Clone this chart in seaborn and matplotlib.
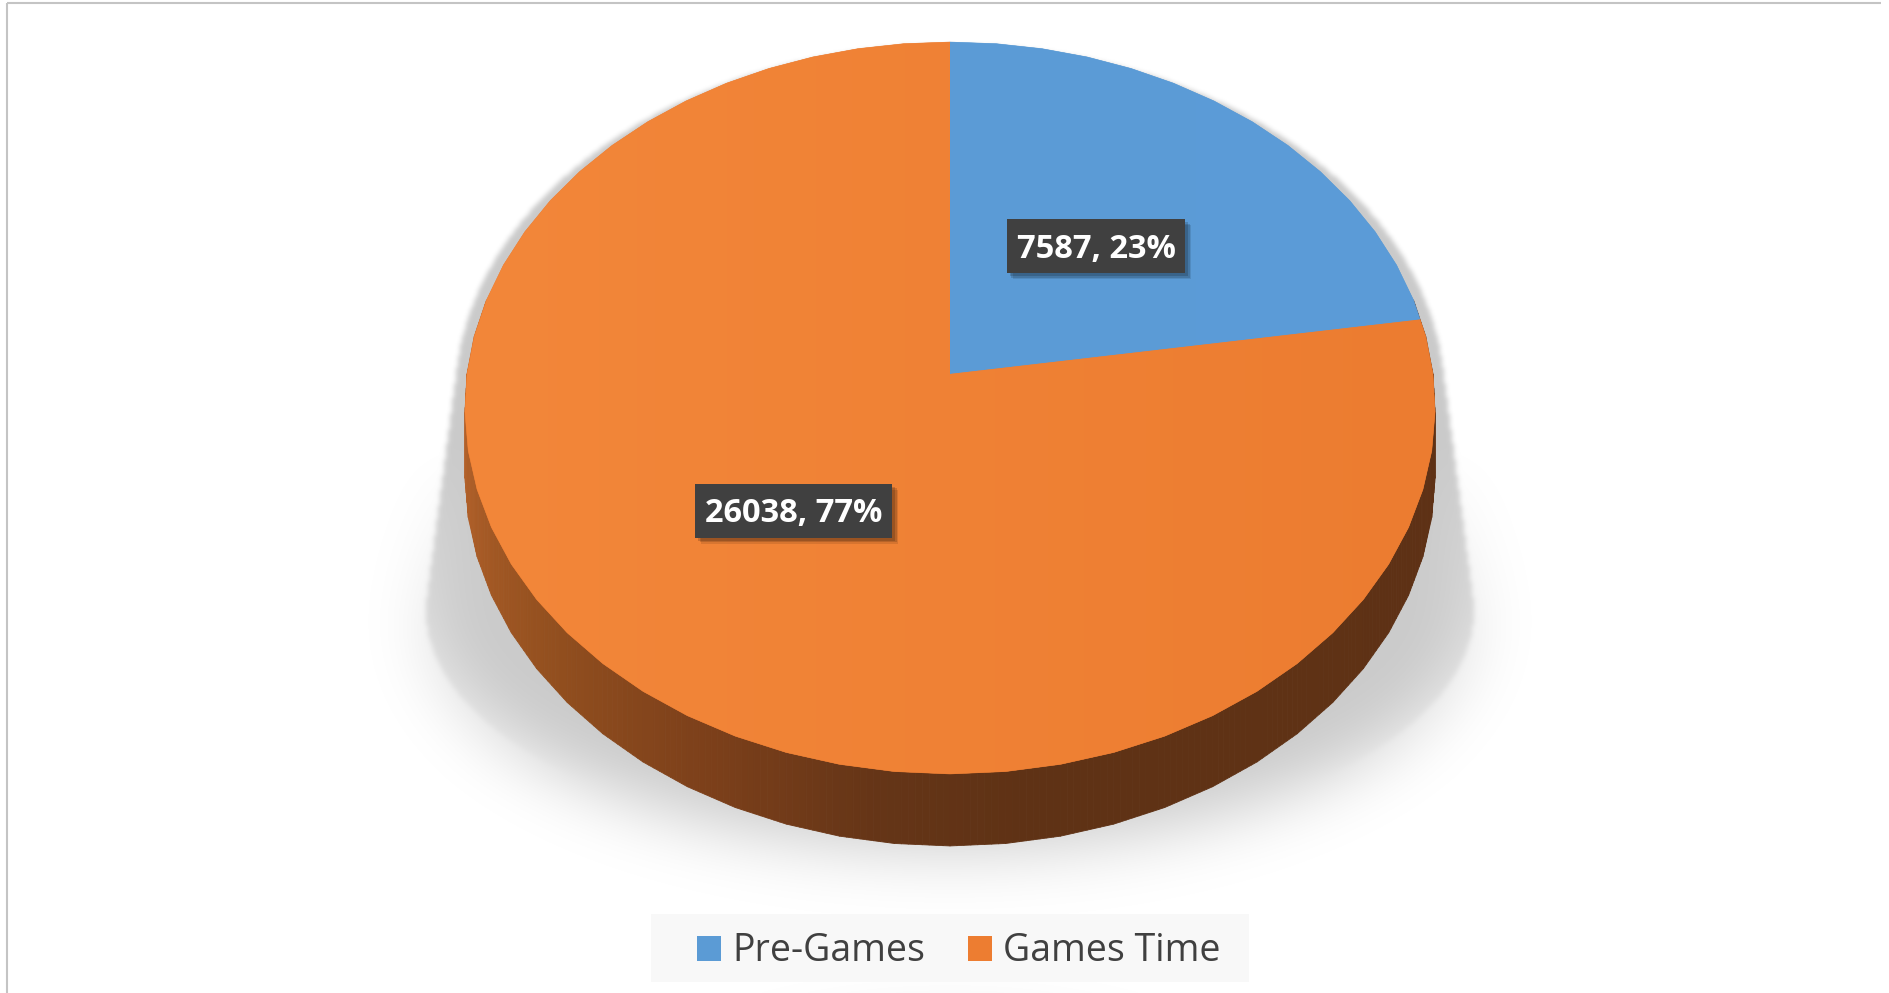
import numpy as np
import pandas as pd
import seaborn as sns
import matplotlib
matplotlib.use("Agg")
import matplotlib.pyplot as plt
from matplotlib.patches import Polygon, Rectangle
from matplotlib.collections import PolyCollection
from matplotlib.path import Path
from matplotlib.colors import to_rgb

# ---- data ----
categories = ["Pre-Games", "Games Time"]
values = [7587, 26038]
slice_colors = ["#5B9BD5", "#ED7D31"]

sns.set_theme(style="white")
plt.rcParams["font.family"] = ["Open Sans", "DejaVu Sans"]
plt.rcParams["hatch.color"] = "#575757"
plt.rcParams["hatch.linewidth"] = 0.6

W, H = 1890, 993
fig = plt.figure(figsize=(W / 100, H / 100), dpi=100)
fig.patch.set_facecolor("white")
ax = fig.add_axes([0, 0, 1, 1])
ax.set_xlim(0, W)
ax.set_ylim(H, 0)
ax.axis("off")

# ---- perspective projection of a unit disk (X right, Y away, Z up) ----
CX, CY = 950.0, 374.0
SX, SY = 483.0, 362.8
K = 0.0929
DEPTH = 65.3
FACET = 6.0  # the disk is drawn as a polygon with a vertex every 6 degrees


def project(X, Y, Z=0.0):
    w = 1.0 + K * Y
    return CX + SX * X / w, CY - (SY * Y + DEPTH * Z) / w


def rim(t_deg, Z=0.0):
    """Point on the faceted rim at angle t (degrees)."""
    t = np.asarray(t_deg, float)
    seg = np.floor(t / FACET) * FACET
    f = (t - seg) / FACET
    a0, a1 = np.radians(seg), np.radians(seg + FACET)
    X = (1 - f) * np.cos(a0) + f * np.cos(a1)
    Y = (1 - f) * np.sin(a0) + f * np.sin(a1)
    return project(X, Y, Z)


# ---- soft floor shadow ----
def ellipse_pts(cx, cy, a, b, n=360):
    t = np.linspace(0, 2 * np.pi, n, endpoint=False)
    return np.column_stack([cx + a * np.cos(t), cy + b * np.sin(t)])


def convex_hull(pts):
    pts = sorted(map(tuple, pts))

    def cross(o, a, b):
        return (a[0] - o[0]) * (b[1] - o[1]) - (a[1] - o[1]) * (b[0] - o[0])

    lower, upper = [], []
    for p in pts:
        while len(lower) >= 2 and cross(lower[-2], lower[-1], p) <= 0:
            lower.pop()
        lower.append(p)
    for p in reversed(pts):
        while len(upper) >= 2 and cross(upper[-2], upper[-1], p) <= 0:
            upper.pop()
        upper.append(p)
    return np.array(lower[:-1] + upper[:-1])


hull = convex_hull(np.vstack([ellipse_pts(950, 400, 495, 355),
                              ellipse_pts(950, 612, 524, 238)]))
step = 2
gy, gx = np.mgrid[0:H:step, 0:W:step]
mask = Path(hull).contains_points(
    np.column_stack([gx.ravel() + step / 2, gy.ravel() + step / 2])
).reshape(gx.shape).astype(float)


def gauss_blur(img, sigma):
    fy = np.fft.fftfreq(img.shape[0])[:, None]
    fx = np.fft.fftfreq(img.shape[1])[None, :]
    tf = np.exp(-2 * np.pi ** 2 * sigma ** 2 * (fx ** 2 + fy ** 2))
    return np.real(np.fft.ifft2(np.fft.fft2(img) * tf))


sharp = gauss_blur(mask, 1.2)
soft = gauss_blur(mask, 17)
wgt = np.clip((gy - 440) / 340.0, 0, 1)
shade = np.clip((1 - wgt) * sharp + wgt * soft, 0, 1)
rgba = np.zeros(shade.shape + (4,))
rgba[..., 3] = 0.21 * shade
ax.imshow(rgba, extent=(0, W, H, 0), origin="upper", zorder=1,
          interpolation="bilinear", aspect="auto")

# ---- pie wall (front half), shaded by angle ----
wall_stops = [(170, "#B6632B"), (185, "#B6632B"), (218, "#94501F"),
              (244, "#7B3F1A"), (262, "#653517"), (278, "#5F3215"),
              (370, "#5E3115")]
sa = np.array([s[0] for s in wall_stops], float)
sc = np.array([to_rgb(s[1]) for s in wall_stops])


def wall_color(t):
    return tuple(np.interp(t, sa, sc[:, i]) for i in range(3))


ts = np.arange(168, 372.01, 0.75)
quads, qcols = [], []
for t0, t1 in zip(ts[:-1], ts[1:]):
    x0, y0 = rim(t0)
    x1, y1 = rim(t1)
    x2, y2 = rim(t1, -1)
    x3, y3 = rim(t0, -1)
    quads.append([(x0, y0), (x1, y1), (x2, y2), (x3, y3)])
    qcols.append(wall_color(0.5 * (t0 + t1)))
ax.add_collection(PolyCollection(quads, facecolors=qcols, edgecolors=qcols,
                                 linewidths=0.6, zorder=2))

# ---- top face slices ----
total = float(sum(values))
fractions = [v / total for v in values]
start = 90.0
bounds = []
for f in fractions:
    end = start - 360.0 * f
    bounds.append((start, end))
    start = end

face_grad = {
    "#5B9BD5": ("#5A9AD4", "#5C9CD8"),
    "#ED7D31": ("#F3873A", "#EC7C30"),
}
xs_grad = np.linspace(0, 1, 256)[None, :]
for (a0, a1), col in zip(bounds, slice_colors):
    inner = np.arange(np.ceil(a1 / FACET) * FACET, a0, FACET)[::-1]
    arc = np.concatenate([[a0], inner[inner < a0], [a1]])
    arc = arc[np.concatenate([[True], np.diff(arc) != 0])]
    px, py = rim(arc)
    pts = np.vstack([[CX, CY], np.column_stack([px, py])])
    base = Polygon(pts, closed=True, facecolor=col, edgecolor=col,
                   linewidth=0.4, zorder=3)
    ax.add_patch(base)
    cl, cr = (np.array(to_rgb(c)) for c in face_grad[col])
    grad = cl[None, None, :] * (1 - xs_grad[..., None]) + cr[None, None, :] * xs_grad[..., None]
    grad = np.repeat(grad, 2, axis=0)
    x_left, x_right = CX - SX - 10, CX + SX + 10
    im = ax.imshow(grad, extent=(x_left, x_right, 790, 30), origin="upper",
                   aspect="auto", zorder=3.1, interpolation="bilinear")
    im.set_clip_path(base)

# ---- data labels ----
fig.canvas.draw()
renderer = fig.canvas.get_renderer()
LABEL_R = 0.48
BOX_H = 54
CAP = 23
for (a0, a1), v, f in zip(bounds, values, fractions):
    mid = np.radians(0.5 * (a0 + a1))
    lx, ly = project(LABEL_R * np.cos(mid), LABEL_R * np.sin(mid))
    txt = ax.text(lx, ly + CAP / 2, f"{v}, {f * 100:.0f}%", color="white",
                  fontsize=23.5, fontweight="bold", ha="center",
                  va="baseline", zorder=7)
    tw = txt.get_window_extent(renderer).width
    bw = tw + 20
    for off, al in ((6, 0.10), (4.5, 0.14), (3, 0.16)):
        ax.add_patch(Rectangle((lx - bw / 2 + off, ly - BOX_H / 2 + off), bw,
                               BOX_H, facecolor="black", alpha=al,
                               edgecolor="none", zorder=5))
    ax.add_patch(Rectangle((lx - bw / 2, ly - BOX_H / 2), bw, BOX_H,
                           facecolor="#404040", edgecolor="none",
                           hatch="...", linewidth=0, zorder=6))

# ---- legend ----
ax.add_patch(Rectangle((651, 914), 598, 68, facecolor="#F8F8F8",
                       edgecolor="none", zorder=4))
legend_x = [697, 968]
for x0, name, col in zip(legend_x, categories, slice_colors):
    ax.add_patch(Rectangle((x0, 936), 24, 25, facecolor=col,
                           edgecolor="none", zorder=5))
    ax.text(x0 + 35, 961, name, color="#404040", fontsize=27,
            ha="left", va="baseline", zorder=5)

# ---- chart frame ----
ax.plot([7, 7], [3, H], color="#C4C4C4", lw=1.5, zorder=8,
        solid_capstyle="butt")
ax.plot([7, 1881], [3, 3], color="#C4C4C4", lw=1.5, zorder=8,
        solid_capstyle="butt")

fig.savefig("out.png", dpi=100, facecolor="white")
